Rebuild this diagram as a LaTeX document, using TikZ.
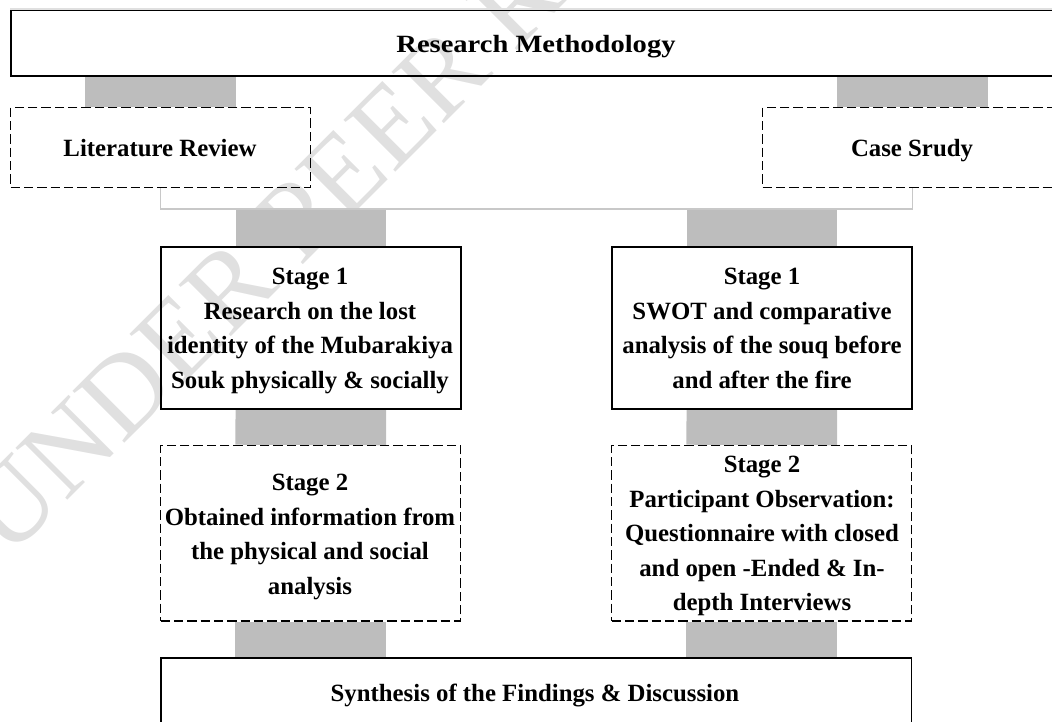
\documentclass[tikz,border=0pt]{standalone}
\usepackage{fontspec}
\usetikzlibrary{backgrounds}
\setmainfont{Liberation Serif}
\definecolor{barg}{RGB}{189,189,189}
\definecolor{wm}{RGB}{224,224,224}
\definecolor{linkg}{RGB}{200,200,200}
\tikzset{
  px/.style={x=0.75pt,y=-0.75pt},
  boxs/.style={draw=black,line width=1.3pt,inner sep=0pt},
  boxd/.style={boxs,line width=1.1pt,dash pattern=on 7pt off 3pt},
  label/.style={inner sep=0pt,align=center,font=\fontsize{18.6}{25.9}\selectfont\bfseries},
  bar/.style={draw=barg,line width=113pt},
  link/.style={draw=linkg,line width=1.1pt},
  wmark/.style={color=wm,font=\fontsize{84}{84}\selectfont,rotate=45,anchor=base west,inner sep=0pt}
}
\begin{document}
\begin{tikzpicture}[px]
\useasboundingbox (0,0) rectangle (1052,721);
\clip (0,0) rectangle (1052,721);
\coordinate (tl) at (10,9);
\node[boxs,minimum width=789pt,minimum height=49.5pt,anchor=north west] (top) at (10,9) {};
\node[label,anchor=base] (toptext) at (536,52) {\addfontfeature{FakeStretch=1.15}Research Methodology};
\draw[draw=wm,line width=1pt] (tl) -- (tl -| 1052,0);
\node[boxd,minimum width=225pt,minimum height=60pt,anchor=north west] (lit) at (10,107) {};
\node[label,anchor=base] (littext) at (160,156) {Literature Review};
\node[boxd,minimum width=225pt,minimum height=60pt,anchor=north west] (cas) at (762,107) {};
\node[label,anchor=base] (castext) at (912,156) {Case Srudy};
\node[boxs,minimum width=225pt,minimum height=121.5pt,anchor=north west] (s1l) at (160,246) {};
\node[label] (s1ltext) at (310,331) {Stage 1\\Research on the lost\\identity of the Mubarakiya\\Souk physically \& socially};
\node[boxs,minimum width=225pt,minimum height=121.5pt,anchor=north west] (s1r) at (611,246) {};
\node[label] (s1rtext) at (762,331) {Stage 1\\SWOT and comparative\\analysis of the souq before\\and after the fire\vphantom{y}};
\node[boxd,minimum width=225pt,minimum height=131.5pt,anchor=north west] (s2l) at (160,445) {};
\node[label] (s2ltext) at (310,537) {Stage 2\\Obtained information from\\the physical and social\\analysis};
\node[boxd,minimum width=225pt,minimum height=131.5pt,anchor=north west] (s2r) at (611,445) {};
\node[label] (s2rtext) at (762,536) {Stage 2\\Participant Observation:\\Questionnaire with closed\\and open -Ended \& In-\\depth Interviews};
\node[boxs,minimum width=563pt,minimum height=75pt,anchor=north west] (syn) at (160,657) {};
\node[label,anchor=base] (syntext) at (535,701) {Synthesis of the Findings \& Discussion};
\coordinate (jn) at (535,209);
\begin{scope}[on background layer]
\node[wmark] (wm) at (8,560) {UNDER PEER REVIEW};
\draw[bar] (lit.north |- top.south) -- (lit.north);
\draw[bar] (cas.north |- top.south) -- (cas.north);
\draw[bar] (s1l.north |- jn) -- (s1l.north);
\draw[bar] (s1r.north |- jn) -- (s1r.north);
\draw[bar] (s1l.south) -- (s2l.north);
\draw[bar] (s1r.south) -- (s2r.north);
\draw[bar] (s2l.south) -- (s2l.south |- syn.north);
\draw[bar] (s2r.south) -- (s2r.south |- syn.north);
\draw[link] (lit.south) -- (lit.south |- jn) -- (cas.south |- jn) -- (cas.south);
\end{scope}
\end{tikzpicture}
\end{document}
